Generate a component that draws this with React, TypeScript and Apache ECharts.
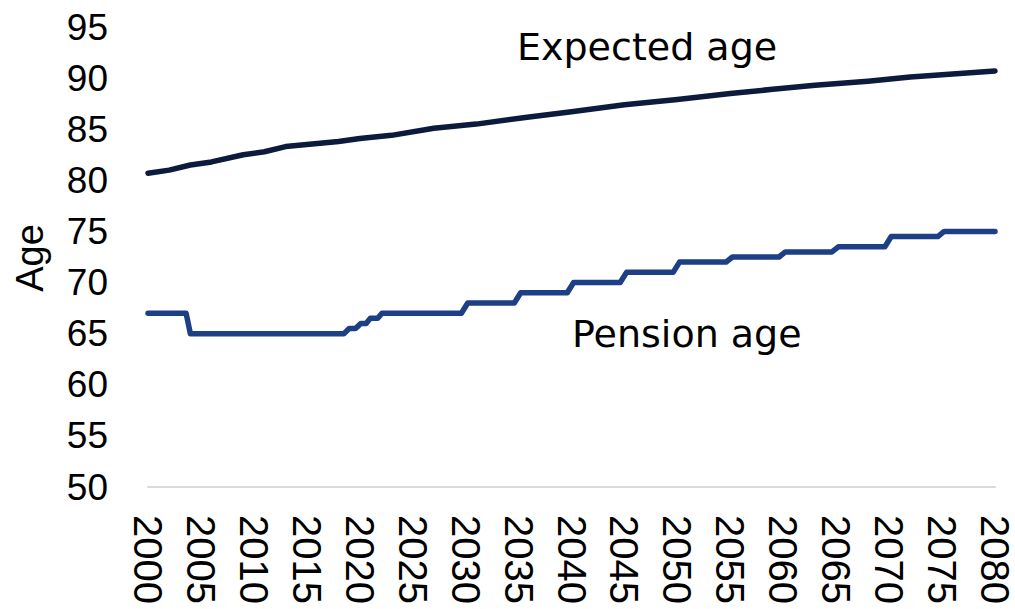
import React, { useEffect, useRef } from "react";
import * as echarts from "echarts";

const expectedYears = [2000, 2002, 2004, 2006, 2009, 2011, 2013, 2016, 2018, 2020, 2023, 2027, 2031, 2036, 2040, 2045, 2050, 2055, 2059, 2063, 2068, 2072, 2076, 2080];
const expectedAge = [80.7, 81.0, 81.5, 81.8, 82.5, 82.8, 83.3, 83.6, 83.8, 84.1, 84.4, 85.1, 85.5, 86.2, 86.7, 87.4, 87.9, 88.5, 88.9, 89.3, 89.7, 90.1, 90.4, 90.7];

const pensionYears = [2000, 2003.6, 2004.0, 2018.5, 2019.0, 2019.6, 2020.1, 2020.6, 2021.0, 2021.7, 2022.1, 2029.6, 2030.2, 2034.6, 2035.2, 2039.6, 2040.2, 2044.6, 2045.2, 2049.6, 2050.2, 2054.6, 2055.2, 2059.6, 2060.2, 2064.6, 2065.2, 2069.6, 2070.2, 2074.6, 2075.2, 2080];
const pensionAge = [67, 67, 65, 65, 65.5, 65.5, 66, 66, 66.5, 66.5, 67, 67, 68, 68, 69, 69, 70, 70, 71, 71, 72, 72, 72.5, 72.5, 73, 73, 73.5, 73.5, 74.5, 74.5, 75, 75];

const yTicks = { min: 50, max: 95, interval: 5 };
const xTicks = { min: 2000, max: 2080, interval: 5 };

const labels = { expected: "Expected age", pension: "Pension age", axis: "Age" };

export default function App() {
  const ref = useRef<HTMLDivElement>(null);
  useEffect(() => {
    if (!ref.current) return;
    const chart = echarts.init(ref.current, null, { renderer: "svg" });
    const tickFont = "Arial, 'Liberation Sans', sans-serif";
    const annFont = "'DejaVu Sans', sans-serif";
    chart.setOption({
      animation: false,
      backgroundColor: "#ffffff",
      grid: { left: 148, right: 17, top: 27, bottom: 122, containLabel: false },
      xAxis: {
        type: "value",
        min: xTicks.min,
        max: xTicks.max,
        interval: xTicks.interval,
        axisLine: { show: true, lineStyle: { color: "#d9d9d9", width: 2 } },
        axisTick: { show: false },
        splitLine: { show: false },
        axisLabel: {
          rotate: -90,
          margin: 28,
          fontSize: 40,
          color: "#000000",
          fontFamily: tickFont,
          formatter: (v: number) => String(v),
        },
      },
      yAxis: {
        type: "value",
        min: yTicks.min,
        max: yTicks.max,
        interval: yTicks.interval,
        axisLine: { show: false },
        axisTick: { show: false },
        splitLine: { show: false },
        axisLabel: {
          margin: 40,
          fontSize: 37,
          color: "#000000",
          fontFamily: tickFont,
        },
      },
      series: [
        {
          name: labels.expected,
          type: "line",
          showSymbol: false,
          data: expectedYears.map((y, i) => [y, expectedAge[i]]),
          lineStyle: { color: "#0c1a3c", width: 5.5, cap: "round", join: "round" },
        },
        {
          name: labels.pension,
          type: "line",
          showSymbol: false,
          data: pensionYears.map((y, i) => [y, pensionAge[i]]),
          lineStyle: { color: "#1c3f86", width: 5.5, cap: "round", join: "round" },
        },
      ],
      graphic: [
        {
          type: "text",
          x: 517,
          y: 47,
          style: { text: labels.expected, fontSize: 38, fontFamily: annFont, fill: "#000000", align: "left", verticalAlign: "middle" },
        },
        {
          type: "text",
          x: 572,
          y: 334,
          style: { text: labels.pension, fontSize: 38, fontFamily: annFont, fill: "#000000", align: "left", verticalAlign: "middle" },
        },
        {
          type: "text",
          x: 30,
          y: 258,
          rotation: Math.PI / 2,
          style: {
            text: labels.axis,
            fontSize: 38,
            fontFamily: tickFont,
            fill: "#000000",
            align: "center",
            verticalAlign: "middle",
          },
        },
      ],
    });
    return () => chart.dispose();
  }, []);
  return (
    <div
      ref={ref}
      style={{ position: "fixed", left: 0, top: 0, width: 1015, height: 609, background: "#fff" }}
    />
  );
}
